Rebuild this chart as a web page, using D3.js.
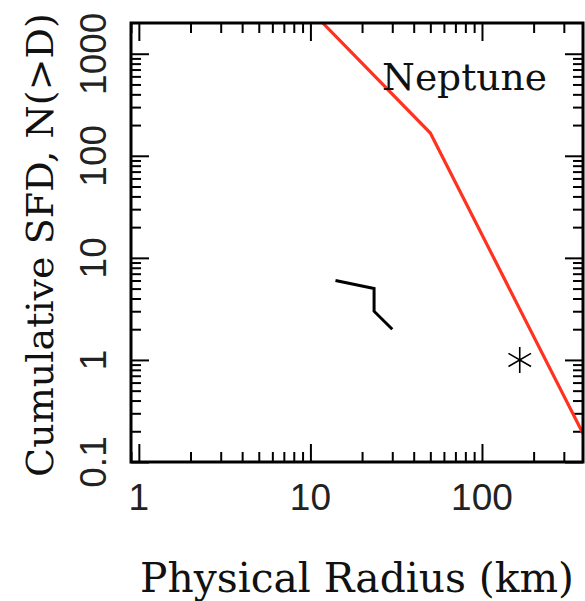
<!DOCTYPE html>
<html><head><meta charset="utf-8">
<script src="https://cdn.jsdelivr.net/npm/d3@7"></script>
<style>body{margin:0;background:#fff}svg{display:block}</style></head>
<body><svg id="c" width="585" height="601"></svg>
<script>
// ---- data ----
const xTickValues = [1, 10, 100];
const xTickLabels = ["1", "10", "100"];
const yTickValues = [0.1, 1, 10, 100, 1000];
const yTickLabels = ["0.1", "1", "10", "100", "1000"];
const neptuneRadius = [11.8, 50, 388];
const neptuneN = [2000, 167, 0.19];
const blackRadius = [14, 23.5, 23.5, 30];
const blackN = [6, 5, 3, 2];
const starRadius = [166];
const starN = [1];
const xTitle = "Physical Radius (km)";
const yTitle = "Cumulative SFD, N(>D)";
const curveLabel = "Neptune";

// ---- layout ----
const L = 131, R = 583, T = 23, B = 462;
const svg = d3.select("#c");
const x = d3.scaleLog().domain([0.9, 388]).range([L, R]);
const y = d3.scaleLog().domain([0.1, 2000]).range([B, T]);

const isMajor = (v, arr) => arr.some(m => Math.abs(v / m - 1) < 1e-6);
const xMinor = x.ticks().filter(v => !isMajor(v, xTickValues) && v >= x.domain()[0] && v <= x.domain()[1]);
const yMinor = y.ticks().filter(v => !isMajor(v, yTickValues) && v >= y.domain()[0] && v < y.domain()[1]);

function addAxis(gen, tx, ty, vals, size) {
  const g = svg.append("g").attr("transform", `translate(${tx},${ty})`)
    .call(gen.tickValues(vals).tickSize(size).tickFormat(""));
  g.select(".domain").remove();
  g.selectAll(".tick line").attr("stroke", "#000").attr("stroke-width", 2);
  g.selectAll(".tick text").remove();
}
addAxis(d3.axisBottom(x), 0, B, xTickValues, -18);
addAxis(d3.axisBottom(x), 0, B, xMinor, -10);
addAxis(d3.axisTop(x), 0, T, xTickValues, -18);
addAxis(d3.axisTop(x), 0, T, xMinor, -10);
addAxis(d3.axisLeft(y), L, 0, yTickValues, -18);
addAxis(d3.axisLeft(y), L, 0, yMinor, -10);
addAxis(d3.axisRight(y), R, 0, yTickValues, -18);
addAxis(d3.axisRight(y), R, 0, yMinor, -10);

// clip
svg.append("clipPath").attr("id", "clip").append("rect")
  .attr("x", L).attr("y", T).attr("width", R - L).attr("height", B - T);

const line = d3.line().x(d => x(d[0])).y(d => y(d[1]));
svg.append("path").attr("clip-path", "url(#clip)")
  .datum(d3.zip(neptuneRadius, neptuneN))
  .attr("d", line).attr("fill", "none").attr("stroke", "#ff3220").attr("stroke-width", 3.2);
svg.append("path")
  .datum(d3.zip(blackRadius, blackN))
  .attr("d", line).attr("fill", "none").attr("stroke", "#000").attr("stroke-width", 3)
  .attr("stroke-linejoin", "miter");
svg.selectAll(".star").data(d3.zip(starRadius, starN)).join("path")
  .attr("transform", d => `translate(${x(d[0])},${y(d[1])})`)
  .attr("d", d3.symbol(d3.symbolAsterisk, 480))
  .attr("fill", "none").attr("stroke", "#000").attr("stroke-width", 1.6);

// frame
svg.append("rect").attr("x", L).attr("y", T).attr("width", R - L).attr("height", B - T)
  .attr("fill", "none").attr("stroke", "#000").attr("stroke-width", 3);

// tick labels
const sans = "Liberation Sans, Arial, Helvetica, sans-serif";
svg.selectAll(".xl").data(xTickValues).join("text")
  .attr("x", d => x(d)).attr("y", 510).attr("text-anchor", "middle")
  .attr("font-family", sans).attr("font-size", 37).attr("fill", "#222")
  .text((d, i) => xTickLabels[i]);
svg.selectAll(".yl").data(yTickValues).join("text")
  .attr("transform", d => `translate(106,${y(d)}) rotate(-90)`).attr("text-anchor", "middle")
  .attr("font-family", sans).attr("font-size", 37).attr("fill", "#222")
  .text((d, i) => yTickLabels[i]);

// titles (serif)
const serif = "DejaVu Serif, serif";
function fit(sel, target) {
  sel.attr("font-size", 100);
  const w = sel.node().getComputedTextLength();
  sel.attr("font-size", 100 * target / w);
}
const xt = svg.append("text").attr("x", (L + R) / 2).attr("y", 592).attr("text-anchor", "middle")
  .attr("font-family", serif).attr("fill", "#111").text(xTitle);
fit(xt, 434);
const yt = svg.append("text").attr("transform", `translate(53,245) rotate(-90)`).attr("text-anchor", "middle")
  .attr("font-family", serif).attr("fill", "#111").text(yTitle);
fit(yt, 464);
const nt = svg.append("text").attr("x", 382).attr("y", 90)
  .attr("font-family", serif).attr("fill", "#111").text(curveLabel);
fit(nt, 165);
</script></body></html>
